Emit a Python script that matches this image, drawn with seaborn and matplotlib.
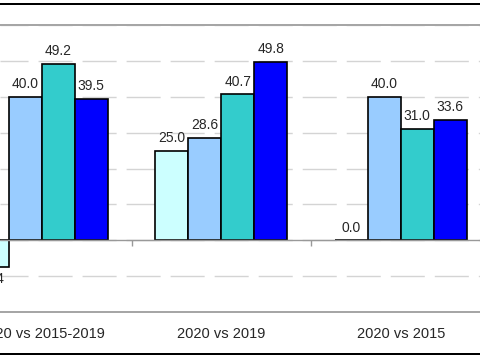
import numpy as np
import pandas as pd
import matplotlib
matplotlib.use('Agg')
import matplotlib.pyplot as plt
from matplotlib.lines import Line2D
import seaborn as sns

categories = ['2020 vs 2015-2019', '2020 vs 2019', '2020 vs 2015']
series = ['Series 1', 'Series 2', 'Series 3', 'Series 4']
series_1 = [-7.4, 25.0, 0.0]
series_2 = [40.0, 28.6, 40.0]
series_3 = [49.2, 40.7, 31.0]
series_4 = [39.5, 49.8, 33.6]
colors = ['#CCFFFF', '#99CCFF', '#33CCCC', '#0000FF']

df = pd.DataFrame({
    'category': categories * 4,
    'series': np.repeat(series, len(categories)),
    'value': series_1 + series_2 + series_3 + series_4,
})

sns.set_style('white')
plt.rcParams['font.family'] = ['Liberation Sans', 'DejaVu Sans']
plt.rcParams['lines.scale_dashes'] = False

fig = plt.figure(figsize=(4.8, 3.6), dpi=100)
ax = fig.add_axes([0, 48 / 360, 1, 287 / 360])

sns.barplot(data=df, x='category', y='value', hue='series', order=categories,
            hue_order=series, palette=colors, saturation=1, width=0.736,
            edgecolor='black', linewidth=1.2, errorbar=None, legend=False, ax=ax)

# labels of bars partly outside the crop must still be drawn
for container in ax.containers:
    ax.bar_label(container, fmt='%.1f', padding=4, fontsize=10,
                 annotation_clip=False)

ax.set_ylim(-20, 60)
ax.set_xlim(-41.8 / 179.5, (480 - 41.8) / 179.5)
ax.set_yticks(np.arange(-20, 61, 10))
ax.yaxis.grid(True, color='#D4D4D4', lw=1.0, linestyle=(4.3, (24.5, 7.2)))
ax.set_axisbelow(True)
ax.axhline(0, color='#999999', lw=1.0, zorder=1.5)
ax.vlines(np.arange(len(categories)) + 0.5, -1.5, 0, color='#999999', lw=1.0)

ax.tick_params(axis='y', length=0, labelleft=False)
ax.tick_params(axis='x', length=0, pad=10.5, labelsize=10.5)
ax.set_xlabel('')
ax.set_ylabel('')

for side in ['left', 'right']:
    ax.spines[side].set_visible(False)
for side in ['top', 'bottom']:
    ax.spines[side].set_color('#A6A6A6')
    ax.spines[side].set_linewidth(1.44)

for y in [356 / 360, 6 / 360]:
    fig.add_artist(Line2D([0, 1], [y, y], color='black', lw=1.44,
                          transform=fig.transFigure))

fig.savefig('out.png', dpi=100)
